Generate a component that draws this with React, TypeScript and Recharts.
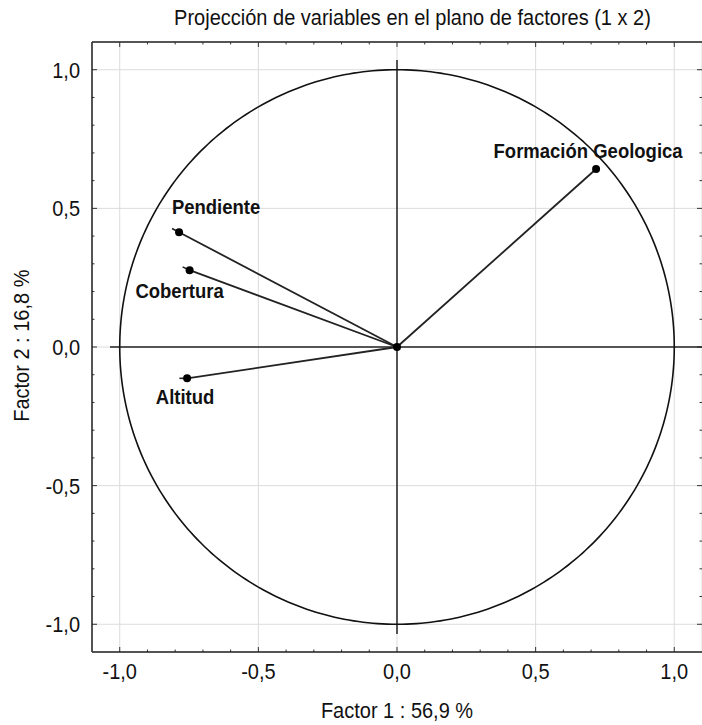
import React from 'react';
import { ScatterChart, Scatter, XAxis, YAxis, CartesianGrid, ReferenceLine } from 'recharts';

// ---- data ----
const variables = ['Pendiente', 'Cobertura', 'Altitud', 'Formación Geologica'];
const factor1 = [-0.786, -0.748, -0.757, 0.718];
const factor2 = [0.414, 0.277, -0.113, 0.642];

const axisTicks = [-1, -0.5, 0, 0.5, 1];
const tickLabels = ['-1,0', '-0,5', '0,0', '0,5', '1,0'];
const minorTicks = [-1, -0.9, -0.8, -0.7, -0.6, -0.5, -0.4, -0.3, -0.2, -0.1, 0, 0.1, 0.2, 0.3, 0.4, 0.5, 0.6, 0.7, 0.8, 0.9, 1];

const titleText = 'Projección de variables en el plano de factores (1 x 2)';
const xTitle = 'Factor 1 : 56,9 %';
const yTitle = 'Factor 2 : 16,8 %';

// ---- geometry / style (not data) ----
const DOMAIN: [number, number] = [-1.1, 1.1];
const ZERO_EXT = 1.035;
const MAJOR_LEN = 0.018;
const MINOR_LEN = 0.009;
const FONT = '"Liberation Sans", Arial, sans-serif';
const VS = 1.1; // vertical text stretch

// unit correlation circle (reference geometry)
const unitCircle = Array.from({ length: 361 }, (_, i) => {
  const a = (i * Math.PI) / 180;
  return { x: Math.cos(a), y: Math.sin(a) };
});

const points = variables.map((name, i) => ({ name, x: factor1[i], y: factor2[i], i }));
const origin = [{ x: 0, y: 0 }];

// label placement relative to marker (px) and short tail beyond marker
const labelOffsets = [
  { dx: 37, dy: -26 },
  { dx: -10, dy: 20 },
  { dx: -2, dy: 18 },
  { dx: -8, dy: -18 },
];
const tails = [
  { dx: -7, dy: -3.7 },
  { dx: -7, dy: -3.3 },
  { dx: -7.7, dy: 0 },
  { dx: 0, dy: 0 },
];

const fmt = (v: number) => {
  const k = axisTicks.findIndex((t) => Math.abs(t - v) < 1e-9);
  return k >= 0 ? tickLabels[k] : String(v);
};

const XTick = (props: any) => {
  const { x, y, payload } = props;
  return (
    <g transform={`translate(${x},${y}) scale(1,${VS})`}>
      <text x={0} y={0} dy="0.72em" textAnchor="middle" fontFamily={FONT} fontSize={20} fill="#111">
        {fmt(payload.value)}
      </text>
    </g>
  );
};

const YTick = (props: any) => {
  const { x, y, payload } = props;
  return (
    <g transform={`translate(${x},${y}) scale(1,${VS})`}>
      <text x={0} y={0} dy="0.36em" textAnchor="end" fontFamily={FONT} fontSize={20} fill="#111">
        {fmt(payload.value)}
      </text>
    </g>
  );
};

const EndShape = (props: any) => {
  const { cx, cy, payload } = props;
  if (cx == null || cy == null) return <g />;
  const k = payload.i;
  const off = labelOffsets[k];
  const t = tails[k];
  return (
    <g>
      {(t.dx !== 0 || t.dy !== 0) && (
        <line x1={cx} y1={cy} x2={cx + t.dx} y2={cy + t.dy} stroke="#222" strokeWidth={1.6} />
      )}
      <circle cx={cx} cy={cy} r={4} fill="#000" />
      <g transform={`translate(${cx + off.dx},${cy + off.dy}) scale(1,${VS})`}>
        <text x={0} y={0} dy="0.36em" textAnchor="middle" fontFamily={FONT} fontSize={18.5} fontWeight={700} fill="#111">
          {payload.name}
        </text>
      </g>
    </g>
  );
};

const OriginShape = (props: any) => {
  const { cx, cy } = props;
  if (cx == null || cy == null) return <g />;
  return <circle cx={cx} cy={cy} r={4} fill="#000" />;
};

const NoShape = () => <g />;

export default function App() {
  const W = 694;
  const H = 725;
  const tickStroke = '#333';
  const tickLines: React.ReactNode[] = [];
  minorTicks.forEach((v, idx) => {
    const major = axisTicks.some((t) => Math.abs(t - v) < 1e-9);
    const len = major ? MAJOR_LEN : MINOR_LEN;
    tickLines.push(
      <ReferenceLine key={`b${idx}`} ifOverflow="visible" stroke={tickStroke} strokeWidth={1}
        segment={[{ x: v, y: DOMAIN[0] }, { x: v, y: DOMAIN[0] + len }]} />,
      <ReferenceLine key={`t${idx}`} ifOverflow="visible" stroke={tickStroke} strokeWidth={1}
        segment={[{ x: v, y: DOMAIN[1] }, { x: v, y: DOMAIN[1] - len }]} />,
      <ReferenceLine key={`l${idx}`} ifOverflow="visible" stroke={tickStroke} strokeWidth={1}
        segment={[{ x: DOMAIN[0], y: v }, { x: DOMAIN[0] + len, y: v }]} />,
      <ReferenceLine key={`r${idx}`} ifOverflow="visible" stroke={tickStroke} strokeWidth={1}
        segment={[{ x: DOMAIN[1], y: v }, { x: DOMAIN[1] - len, y: v }]} />
    );
  });

  return (
    <div style={{ position: 'absolute', left: 8, top: 0, width: W, height: H, overflow: 'hidden' }}>
      <ScatterChart width={W} height={H} margin={{ top: 42, right: 0, bottom: 0, left: 0 }}>
        <CartesianGrid stroke="#dcdcdc" strokeWidth={1} />
        <XAxis
          type="number"
          dataKey="x"
          domain={DOMAIN}
          allowDataOverflow
          ticks={axisTicks}
          tickFormatter={fmt}
          tickLine={false}
          tickSize={0}
          tickMargin={11}
          height={73}
          axisLine={{ stroke: '#222', strokeWidth: 1.5 }}
          tick={<XTick />}
        />
        <YAxis
          type="number"
          dataKey="y"
          domain={DOMAIN}
          allowDataOverflow
          ticks={axisTicks}
          tickFormatter={fmt}
          tickLine={false}
          tickSize={0}
          tickMargin={12}
          width={84}
          axisLine={{ stroke: '#222', strokeWidth: 1.5 }}
          tick={<YTick />}
        />
        <ReferenceLine ifOverflow="visible" stroke="#222" strokeWidth={1.5}
          segment={[{ x: DOMAIN[0], y: DOMAIN[1] }, { x: DOMAIN[1], y: DOMAIN[1] }]} />
        {tickLines}
        <ReferenceLine ifOverflow="visible" stroke="#222" strokeWidth={1.5}
          segment={[{ x: 0, y: -ZERO_EXT }, { x: 0, y: ZERO_EXT }]} />
        <ReferenceLine ifOverflow="visible" stroke="#222" strokeWidth={1.5}
          segment={[{ x: -ZERO_EXT, y: 0 }, { x: DOMAIN[1], y: 0 }]} />
        <Scatter data={unitCircle} line={{ stroke: '#111', strokeWidth: 1.6 }} shape={NoShape} isAnimationActive={false} />
        {points.map((p) => (
          <Scatter key={p.name} data={[{ x: 0, y: 0 }, { x: p.x, y: p.y }]} line={{ stroke: '#222', strokeWidth: 1.8 }}
            shape={NoShape} isAnimationActive={false} />
        ))}
        <Scatter data={origin} shape={OriginShape} isAnimationActive={false} />
        <Scatter data={points} shape={EndShape} isAnimationActive={false} />
      </ScatterChart>
      <svg width={W} height={H} style={{ position: 'absolute', left: 0, top: 0, pointerEvents: 'none' }}>
        <g transform={`translate(404.5,24.5) scale(1,${VS})`}>
          <text x={0} y={0} textAnchor="middle" fontFamily={FONT} fontSize={20} fill="#111">{titleText}</text>
        </g>
        <g transform={`translate(389,718) scale(1,${VS})`}>
          <text x={0} y={0} textAnchor="middle" fontFamily={FONT} fontSize={20} fill="#111">{xTitle}</text>
        </g>
        <g transform={`translate(20.5,345.7) rotate(-90) scale(1,${VS})`}>
          <text x={0} y={0} textAnchor="middle" fontFamily={FONT} fontSize={20} fill="#111">{yTitle}</text>
        </g>
      </svg>
    </div>
  );
}
